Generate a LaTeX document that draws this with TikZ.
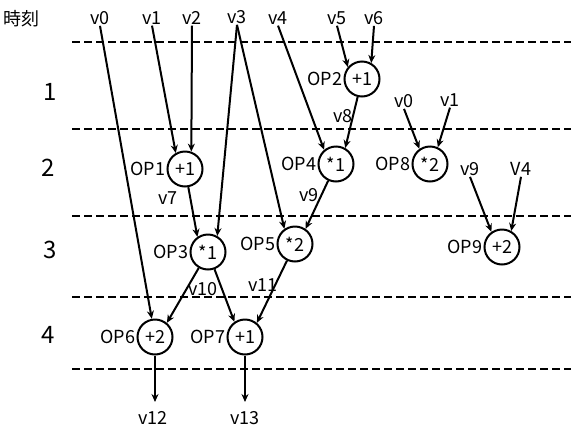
\documentclass[tikz,border=0pt]{standalone}
\usepackage{fontspec}
\setmainfont{Noto Sans CJK JP}
\usetikzlibrary{arrows.meta}
\begin{document}
\begin{tikzpicture}[x=1pt,y=-1pt,
  op/.style={circle,draw,line width=2pt,minimum size=35pt,inner sep=0pt,font=\fontsize{18}{20}\selectfont},
  lbl/.style={inner sep=1pt,font=\fontsize{18}{20}\selectfont},
  tm/.style={inner sep=1pt,font=\fontsize{24}{26}\selectfont},
  sep/.style={dashed,dash pattern=on 8pt off 4pt,line width=2pt},
  arr/.style={line width=2pt,-{Stealth[length=8pt,width=7pt]}}]
\useasboundingbox (0,0) rectangle (571,432);
% dashed separators
\foreach \yy/\nm in {42/a,129/b,216/c,297/d,369/e}{
  \coordinate (L\nm) at (72,\yy); \coordinate (R\nm) at (571,\yy);
  \draw[sep] (L\nm) -- (R\nm);}
% time labels
\node[lbl] (jikoku) at (22,19) {時刻};
\node[tm] (t1) at (50,92) {1};
\node[tm] (t2) at (48,168) {2};
\node[tm] (t3) at (50,250) {3};
\node[tm] (t4) at (48,335) {4};
% top inputs
\node[lbl] (v0) at (100,18) {v0};
\node[lbl] (v1) at (152,18) {v1};
\node[lbl] (v2) at (192,18) {v2};
\node[lbl] (v3) at (237,17) {v3};
\node[lbl] (v4) at (278,18) {v4};
\node[lbl] (v5) at (337,18) {v5};
\node[lbl] (v6) at (374,18) {v6};
% operations
\node[op] (OP2) at (362,79) {+1};
\node[op] (OP1) at (185,169) {+1};
\node[op] (OP4) at (336,164) {*1};
\node[op] (OP8) at (430,164) {*2};
\node[op] (OP3) at (208,252) {*1};
\node[op] (OP5) at (295,244) {*2};
\node[op] (OP9) at (502,247) {+2};
\node[op] (OP6) at (155,337) {+2};
\node[op] (OP7) at (245,337) {+1};
% op names
\node[lbl,anchor=east] (n2) at (OP2.west) {OP2};
\node[lbl,anchor=east] (n1) at (OP1.west) {OP1};
\node[lbl,anchor=east] (n4) at (OP4.west) {OP4};
\node[lbl,anchor=east] (n8) at (OP8.west) {OP8};
\node[lbl,anchor=east] (n3) at (OP3.west) {OP3};
\node[lbl,anchor=east] (n5) at (OP5.west) {OP5};
\node[lbl,anchor=east] (n9) at (OP9.west) {OP9};
\node[lbl,anchor=east] (n6) at (OP6.west) {OP6};
\node[lbl,anchor=east] (n7) at (OP7.west) {OP7};
% side inputs
\node[lbl] (v0b) at (404,101) {v0};
\node[lbl] (v1b) at (450,100) {v1};
\node[lbl] (v9b) at (470,169) {v9};
\node[lbl] (V4b) at (521,169) {V4};
% edge labels
\node[lbl] (e8) at (343,116) {v8};
\node[lbl] (e7) at (168,198) {v7};
\node[lbl] (e9) at (309,195) {v9};
\node[lbl] (e10) at (203,289) {v10};
\node[lbl] (e11) at (263,285) {v11};
% outputs
\coordinate (o6) at (155,402);
\coordinate (o7) at (245,402);
\node[lbl] (v12) at (153,418) {v12};
\node[lbl] (v13) at (245,418) {v13};
% connectors
\draw[arr] (v0.south) -- (OP6);
\draw[arr] (v1.south) -- (OP1.120);
\draw[arr] (v2.south) -- (OP1.70);
\draw[arr] (v3.south) -- (OP3.60);
\draw[arr] (v3.south) -- (OP5.125);
\draw[arr] (v4.south) -- (OP4.130);
\draw[arr] (v5.south) -- (OP2.140);
\draw[arr] (v6.south) -- (OP2.60);
\draw[arr] (OP2) -- (OP4.60);
\draw[arr] (v0b.south) -- (OP8.125);
\draw[arr] (v1b.south) -- (OP8.65);
\draw[arr] (v9b.south) -- (OP9.125);
\draw[arr] (V4b.south) -- (OP9.60);
\draw[arr] (OP1) -- (OP3.125);
\draw[arr] (OP4) -- (OP5.55);
\draw[arr] (OP3) -- (OP6.50);
\draw[arr] (OP3) -- (OP7.125);
\draw[arr] (OP5) -- (OP7.50);
\draw[arr] (OP6) -- (o6);
\draw[arr] (OP7) -- (o7);
\end{tikzpicture}
\end{document}
